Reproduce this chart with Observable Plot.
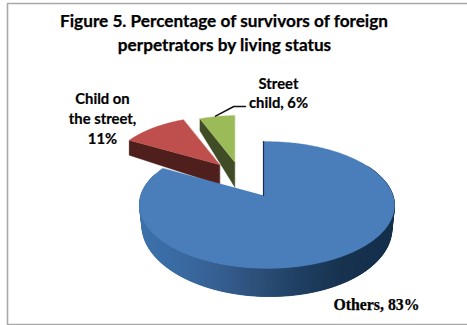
<!DOCTYPE html>
<html>
<head>
<meta charset="utf-8">
<script src="https://cdn.jsdelivr.net/npm/d3@7"></script>
<script src="https://cdn.jsdelivr.net/npm/@observablehq/plot@0.6"></script>
<style>
  html, body { margin: 0; padding: 0; background: #fff; }
  svg { display: block; }
</style>
</head>
<body>
<div id="chart"></div>
<script>
// Living status of survivors, percent of the total
const categories = ["Others", "Child on the street", "Street child"];
const values = [83, 11, 6];

const topColors = ["#4a7ebb", "#be4f4c", "#9bbb59"];
const wallColors = ["#14304d", "#4e1f1c", "#3f4c25"];

// Blue rim shading, left to right across the front of the pie
const rimStops = ["#3d72ac", "#3a6ba2", "#375f92", "#2c4f78", "#1f3f61", "#17324f", "#16304c"];

// Exploded slices: where each apex lands and how far back it sits
const apexX = [263, 219.3, 234.3];
const apexY = [195, 164.3, 161.7];
const sliceScale = [1, 0.9, 0.866];
const wallDepth = [[0, 0], [20, 15], [25, 12]];

// Tilted-disc camera
const camera = { ru: 126, rv: 62, p: 0.15, q: -0.027, taper: 0.98, rimA: -27, rimB: 48 };

function project(i, u, v) {
  const c = camera;
  const s = 1 / (1 + c.p * v + c.q * u);
  const k = sliceScale[i];
  return [apexX[i] + k * c.ru * u * s, apexY[i] - k * c.rv * v * s];
}

function rimPoint(i, u, v) {
  const c = camera;
  const s = 1 / (1 + c.p * v + c.q * u);
  const k = sliceScale[i] * c.taper;
  return [apexX[i] + k * c.ru * u * s, apexY[i] - k * c.rv * v * s + c.rimA + c.rimB * s];
}

const slices = d3.pie().sort(null).startAngle(0).endAngle(2 * Math.PI)(values);
const faces = [];
let faceId = 0;

function addFace(points, fill) {
  const id = faceId++;
  for (const [x, y] of points) faces.push({ id, x, y, fill });
}

function topFace(i) {
  const { startAngle, endAngle } = slices[i];
  const pts = [project(i, 0, 0)];
  const n = Math.ceil((endAngle - startAngle) * 60);
  for (let k = 0; k <= n; k++) {
    const a = startAngle + (endAngle - startAngle) * k / n;
    pts.push(project(i, Math.sin(a), Math.cos(a)));
  }
  addFace(pts, topColors[i]);
}

// The cut face below a slice's left edge
function cutWall(i, angle) {
  const a = project(i, 0, 0);
  const o = project(i, Math.sin(angle), Math.cos(angle));
  const [dApex, dOuter] = wallDepth[i];
  addFace([a, o, [o[0], o[1] + dOuter], [a[0], a[1] + dApex]], wallColors[i]);
}

function frontRim(i, from, to) {
  const shade = d3.scaleLinear()
    .domain(rimStops.map((_, k) => 139 + k * 42))
    .range(rimStops)
    .clamp(true);
  const n = 240;
  for (let k = n - 1; k >= 0; k--) {
    const a0 = from + (to - from) * k / n;
    // Each strip runs under its neighbour so no seams show between them
    const a1 = from + (to - from) * (k + 3) / n;
    const t0 = project(i, Math.sin(a0), Math.cos(a0));
    const t1 = project(i, Math.sin(a1), Math.cos(a1));
    const b1 = rimPoint(i, Math.sin(a1), Math.cos(a1));
    const b0 = rimPoint(i, Math.sin(a0), Math.cos(a0));
    addFace([t0, t1, b1, b0], shade(t0[0]));
  }
}

// Painter's order, from the back of the scene to the front
cutWall(1, slices[1].startAngle);
topFace(1);
cutWall(2, slices[2].startAngle);
topFace(2);
frontRim(0, 60 * Math.PI / 180, 290 * Math.PI / 180);
topFace(0);

const blueEdge = [project(0, 0, 0), project(0, 0, 1)].map(([x, y]) => ({ x, y }));
const leader = [[215, 115.7], [233.3, 106], [245, 106]].map(([x, y]) => ({ x, y }));

const sans = "Lato, Carlito, sans-serif";
const serif = "'Liberation Serif', serif";

function label(text, x, y, size, family, heft) {
  return Plot.text([text], {
    x: () => x, y: () => y, text: d => d,
    fontFamily: family, fontWeight: 700, fontSize: size,
    fill: "#000", stroke: "#000", strokeWidth: heft,
    textAnchor: "middle", lineHeight: 1.35
  });
}

const plot = Plot.plot({
  width: 467,
  height: 325,
  margin: 0,
  x: { domain: [0, 467], range: [0, 467], axis: null },
  y: { domain: [0, 325], range: [0, 325], axis: null },
  color: { type: "identity" },
  marks: [
    // Chart frame
    Plot.line([{ x: 467, y: 3 }, { x: 7, y: 3 }, { x: 7, y: 324 }, { x: 467, y: 324 }], {
      x: "x", y: "y", stroke: "#a9a9a9", strokeWidth: 1.6
    }),
    Plot.line(faces, {
      x: "x", y: "y", z: "id", fill: "fill", stroke: "fill",
      strokeWidth: 0.3, curve: "linear-closed"
    }),
    Plot.line(blueEdge, { x: "x", y: "y", stroke: wallColors[0], strokeWidth: 1.2 }),
    Plot.line(leader, { x: "x", y: "y", stroke: "#111", strokeWidth: 1.5 }),
    label("Figure 5. Percentage of survivors of foreign", 223.5, 19.5, 17.2, sans, 0.25),
    label("perpetrators by living status", 224, 43.5, 17.2, sans, 0.25),
    label(`Street\nchild, ${values[2]}%`, 278, 91.6, 14.8, sans, 0.2),
    label(`Child on\nthe street,\n${values[1]}%`, 102, 117, 14.8, sans, 0.2),
    label(`${categories[0]}, ${values[0]}%`, 376, 302.2, 15.8, serif, 0.25)
  ]
});
document.getElementById("chart").append(plot);
</script>
</body>
</html>
